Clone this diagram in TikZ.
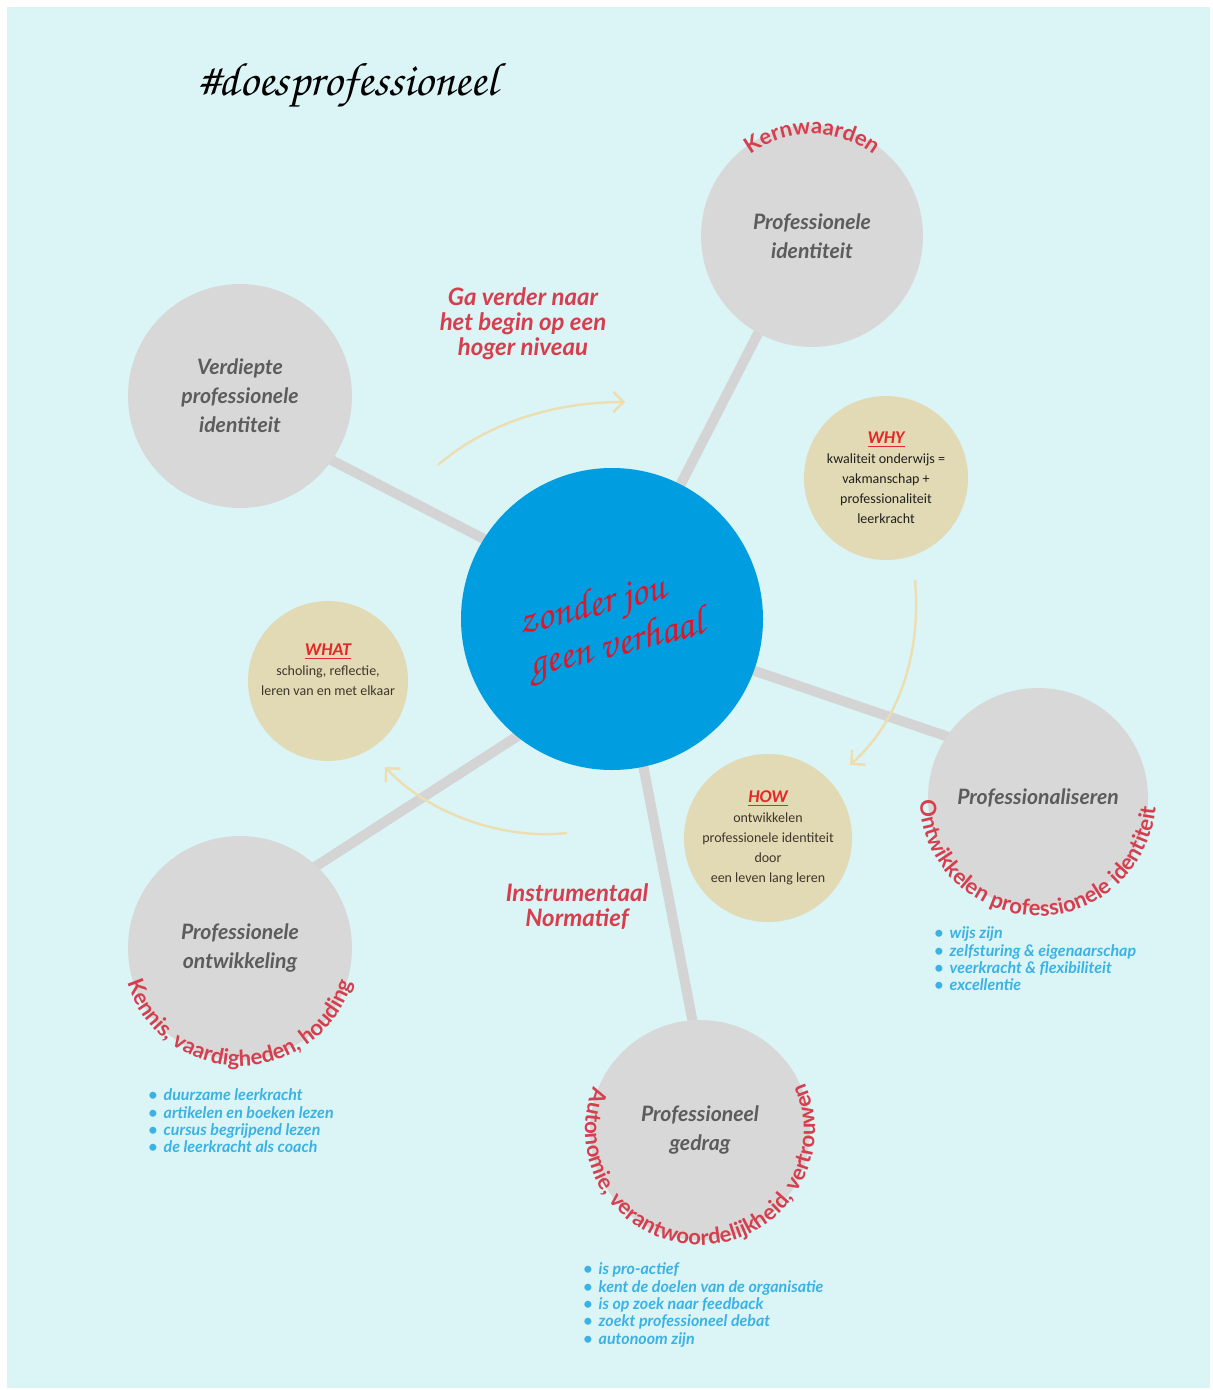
\documentclass[tikz,border=0pt]{standalone}
\usepackage[T1]{fontenc}
\usepackage{fontspec}
\setmainfont{Lato}
\newfontfamily\carlito{Carlito}
\usetikzlibrary{positioning}
\usetikzlibrary{decorations.text}
\usetikzlibrary{arrows.meta}
\pgfdeclarelayer{background}
\pgfsetlayers{background,main}

\definecolor{bgcyan}{RGB}{219,244,246}
\definecolor{circgray}{RGB}{216,216,216}
\definecolor{linegray}{RGB}{212,212,212}
\definecolor{tanfill}{RGB}{226,218,180}
\definecolor{arrowtan}{RGB}{236,222,176}
\definecolor{coreblue}{RGB}{0,158,224}
\definecolor{labred}{RGB}{214,62,78}
\definecolor{mottored}{RGB}{225,20,40}
\definecolor{listblue}{RGB}{58,178,228}
\definecolor{textgray}{RGB}{92,92,92}
\definecolor{whyred}{RGB}{228,40,40}
\definecolor{tantext}{RGB}{62,54,42}

\newcommand{\handfont}[2]{\fontencoding{T1}\fontfamily{pzc}\fontseries{mb}\fontshape{it}\fontsize{#1}{#2}\selectfont}
\newcommand{\arcfont}{\fontsize{11}{13}\selectfont\bfseries\color{labred}}
\newcommand{\tanhead}[1]{{\fontsize{9}{10}\selectfont\bfseries\itshape\textcolor{whyred}{\underline{#1}}}}

\tikzset{
  bigcirc/.style={circle, fill=circgray, inner sep=0pt, minimum size=#1pt, align=center,
    text=textgray, font=\fontsize{10.6}{14.5}\selectfont\bfseries\itshape},
  tancirc/.style={circle, fill=tanfill, inner sep=0pt, minimum size=#1pt, align=center,
    font=\carlito\fontsize{7}{10}\selectfont},
  spoke/.style={line width=5pt, draw=linegray, shorten <=-2pt, shorten >=-2pt},
  flow/.style={line width=1.2pt, draw=arrowtan, -{Straight Barb[length=5pt,width=10pt]}},
  redlabel/.style={text=labred, align=center, font=\fontsize{12}{12.5}\selectfont\bfseries\itshape},
  bluelist/.style={text=listblue, align=left, anchor=west, inner sep=0pt, font=\fontsize{8}{8.65}\selectfont\bfseries\itshape},
  arctext/.style={decorate, decoration={text along path, text align=center, text={|\arcfont|#1}}},
}

\begin{document}
\begin{tikzpicture}[x=0.5pt, y=0.5pt]
				\useasboundingbox (0,0) rectangle (1212,-1390);

				%Circles
				\node[circle, fill=coreblue, inner sep=0pt, minimum size=151pt] (core) at (612,-619) {};
				\node[bigcirc=111] (ident)    at (812,-236)  {Professionele\\identiteit};
				\node[bigcirc=112] (verdiept) at (240,-396)  {Verdiepte\\professionele\\identiteit};
				\node[bigcirc=110] (profal)   at (1038,-798) {Professionaliseren};
				\node[bigcirc=112] (ontw)     at (240,-948)  {Professionele\\ontwikkeling};
				\node[bigcirc=110] (gedrag)   at (700,-1130) {Professioneel\\gedrag};

				\node[tancirc=82] (why) at (886,-478) {\tanhead{WHY}\\ \color{black!88}kwaliteit onderwijs =\\ \color{black!88}vakmanschap +\\ \color{black!88}professionaliteit\\ \color{black!88}leerkracht};
				\node[tancirc=80] (what) at (328,-681) {};
				\node[align=center, text=tantext, font=\carlito\fontsize{7}{10}\selectfont] (whattxt) at (328,-670) {\tanhead{WHAT}\\scholing, reflectie,\\leren van en met elkaar};
				\node[tancirc=84, text=tantext] (how) at (768,-838) {\tanhead{HOW}\\ontwikkelen\\professionele identiteit\\door\\een leven lang leren};

				%Lines
				\begin{pgfonlayer}{background}
				\fill[white] (0,0) rectangle (1212,-1390);
				\fill[bgcyan] (7,-7) rectangle (1210,-1388);
				\draw[spoke] (core.63)   -- (ident.241);
				\draw[spoke] (core.148)  -- (verdiept.-35);
				\draw[spoke] (core.-20)  -- (profal.146);
				\draw[spoke] (core.231)  -- (ontw.47);
				\draw[spoke] (core.-78)  -- (gedrag.94);
				\end{pgfonlayer}

				%Arrows
				\coordinate (upA)   at (438,-465);
				\coordinate (upB)   at (625,-402);
				\coordinate (downA) at (915,-580);
				\coordinate (downB) at (850,-765);
				\coordinate (backA) at (567,-833);
				\coordinate (backB) at (385,-767);
				\draw[flow] (upA) .. controls (490,-420) and (560,-402) .. (upB);
				\draw[flow] (downA) .. controls (922,-660) and (895,-725) .. (downB);
				\draw[flow] (backA) .. controls (505,-840) and (430,-815) .. (backB);

				%Texts
				\node[font={\handfont{23.5}{23.5}}] (title) at (348,-86) {\#doesprofessioneel};
				\node[rotate=14, align=left, text=mottored, font={\handfont{20.5}{14}}] (motto) at (612,-626) {zonder jou\\geen verhaal};
				\node[redlabel] (verder) at (523,-324) {Ga verder naar\\het begin op een\\hoger niveau};
				\node[redlabel] (norm)   at (577,-907) {Instrumentaal\\Normatief};

				\path[arctext=Kernwaarden] ([shift={(150:102)}]ident.center) arc[start angle=150, end angle=30, radius=102];
				\path[arctext={Ontwikkelen professionele identiteit}] ([shift={(158:118)}]profal.center) arc[start angle=158, end angle=379, radius=118];
				\path[arctext={Kennis, vaardigheden, houding}] ([shift={(165:118)}]ontw.center) arc[start angle=165, end angle=375, radius=118];
				\path[arctext={Autonomie, verantwoordelijkheid, vertrouwen}] ([shift={(141:115)}]gedrag.center) arc[start angle=141, end angle=401, radius=115];

				%Lists
				\node[bluelist] (listprofal) at (934,-959) {\textbullet\hspace{3pt}wijs zijn\\\textbullet\hspace{3pt}zelfsturing \& eigenaarschap\\\textbullet\hspace{3pt}veerkracht \& flexibiliteit\\\textbullet\hspace{3pt}excellentie};
				\node[bluelist] (listontw) at (148,-1121) {\textbullet\hspace{3pt}duurzame leerkracht\\\textbullet\hspace{3pt}artikelen en boeken lezen\\\textbullet\hspace{3pt}cursus begrijpend lezen\\\textbullet\hspace{3pt}de leerkracht als coach};
				\node[bluelist] (listgedrag) at (583,-1305) {\textbullet\hspace{3pt}is pro-actief\\\textbullet\hspace{3pt}kent de doelen van de organisatie\\\textbullet\hspace{3pt}is op zoek naar feedback\\\textbullet\hspace{3pt}zoekt professioneel debat\\\textbullet\hspace{3pt}autonoom zijn};

			\end{tikzpicture}
\end{document}
